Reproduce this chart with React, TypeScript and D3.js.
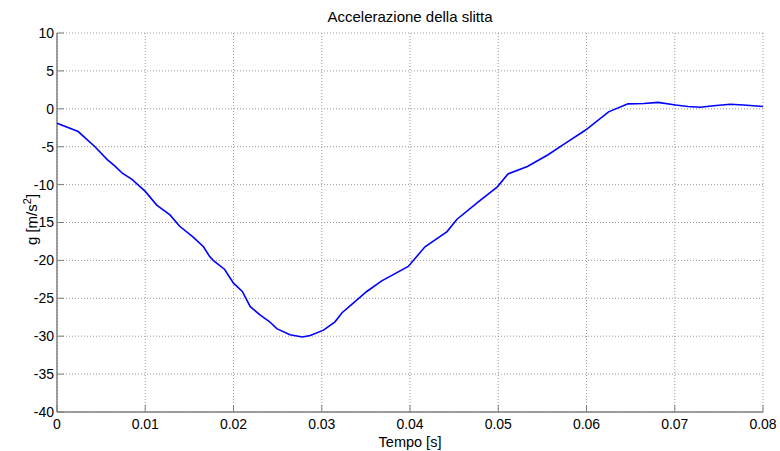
import React from 'react';
import * as d3 from 'd3';

// tempo [s] e accelerazione [g]
const tempo = [
  0, 0.0024, 0.0043, 0.0057, 0.0066, 0.0074, 0.0085, 0.01, 0.0113, 0.0128,
  0.0139, 0.0154, 0.0166, 0.0173, 0.0177, 0.019, 0.02, 0.021, 0.0219, 0.023,
  0.0241, 0.0249, 0.0264, 0.0278, 0.0287, 0.0302, 0.0315, 0.0323, 0.0336, 0.0351,
  0.0368, 0.0398, 0.0417, 0.0442, 0.0453, 0.0477, 0.0499, 0.0511, 0.0533, 0.0556,
  0.0578, 0.0599, 0.0625, 0.0647, 0.0665, 0.0681, 0.0701, 0.0715, 0.0729, 0.0744,
  0.0763, 0.0778, 0.08,
];
const accel = [
  -1.9, -3.0, -5.0, -6.7, -7.6, -8.5, -9.3, -10.9, -12.7, -14.0,
  -15.5, -16.9, -18.2, -19.5, -20.0, -21.2, -23.0, -24.1, -26.1, -27.2,
  -28.1, -29.0, -29.8, -30.1, -29.9, -29.2, -28.1, -26.9, -25.6, -24.1,
  -22.7, -20.8, -18.2, -16.2, -14.6, -12.3, -10.3, -8.6, -7.6, -6.1,
  -4.4, -2.8, -0.4, 0.65, 0.7, 0.85, 0.5, 0.3, 0.2, 0.4,
  0.6, 0.5, 0.3,
];
const xTicks = [0, 0.01, 0.02, 0.03, 0.04, 0.05, 0.06, 0.07, 0.08];
const yTicks = [10, 5, 0, -5, -10, -15, -20, -25, -30, -35, -40];

const width = 780;
const height = 451;
const margin = { top: 33, right: 17, bottom: 39, left: 57 };
const font = 'Arial, "Liberation Sans", Helvetica, sans-serif';

const App = () => {
  const innerWidth = width - margin.left - margin.right;
  const innerHeight = height - margin.top - margin.bottom;

  const xScale = d3.scaleLinear().domain([0, 0.08]).range([0, innerWidth]);
  const yScale = d3.scaleLinear().domain([-40, 10]).range([innerHeight, 0]);

  const line = d3
    .line<number>()
    .x((d, i) => xScale(tempo[i]))
    .y((d) => yScale(d));

  return (
    <svg
      width={width}
      height={height}
      style={{ position: 'absolute', left: 0, top: 0, background: '#fff' }}
      fontFamily={font}
    >
      <g transform={`translate(${margin.left},${margin.top})`}>
        {xTicks.map((t) => (
          <line
            key={'gx' + t}
            x1={xScale(t)}
            x2={xScale(t)}
            y1={0}
            y2={innerHeight}
            stroke="#9a9a9a"
            strokeDasharray="1 2"
          />
        ))}
        {yTicks.map((v) => (
          <line
            key={'gy' + v}
            x1={0}
            x2={innerWidth}
            y1={yScale(v)}
            y2={yScale(v)}
            stroke="#9a9a9a"
            strokeDasharray="1 2"
          />
        ))}
        <line x1={0} x2={0} y1={0} y2={innerHeight} stroke="#808080" strokeWidth={1.5} />
        <line x1={0} x2={innerWidth} y1={innerHeight} y2={innerHeight} stroke="#808080" strokeWidth={1.5} />
        {xTicks.map((t) => (
          <g key={'tx' + t}>
            <line x1={xScale(t)} x2={xScale(t)} y1={innerHeight} y2={innerHeight - 7} stroke="#808080" />
            <text x={xScale(t)} y={innerHeight + 17} textAnchor="middle" fontSize={14} fill="#000">
              {t === 0 ? '0' : d3.format('.2f')(t)}
            </text>
          </g>
        ))}
        {yTicks.map((v) => (
          <g key={'ty' + v}>
            <line x1={0} x2={7} y1={yScale(v)} y2={yScale(v)} stroke="#808080" />
            <text x={-3} y={yScale(v)} dy="0.35em" textAnchor="end" fontSize={14} fill="#000">
              {v}
            </text>
          </g>
        ))}
        <path d={line(accel) || ''} fill="none" stroke="#0000ff" strokeWidth={1.6} />
        <text x={innerWidth / 2} y={-11} textAnchor="middle" fontSize={15} fill="#000">
          Accelerazione della slitta
        </text>
        <text x={innerWidth / 2} y={innerHeight + 35} textAnchor="middle" fontSize={14.5} fill="#000">
          Tempo [s]
        </text>
        <text
          transform={`translate(-20,${innerHeight / 2 - 3}) rotate(-90)`}
          textAnchor="middle"
          fontSize={15}
          fill="#000"
        >
          g [m/s<tspan dy="-6" fontSize={11}>2</tspan>
          <tspan dy="6">]</tspan>
        </text>
      </g>
    </svg>
  );
};

export default App;
